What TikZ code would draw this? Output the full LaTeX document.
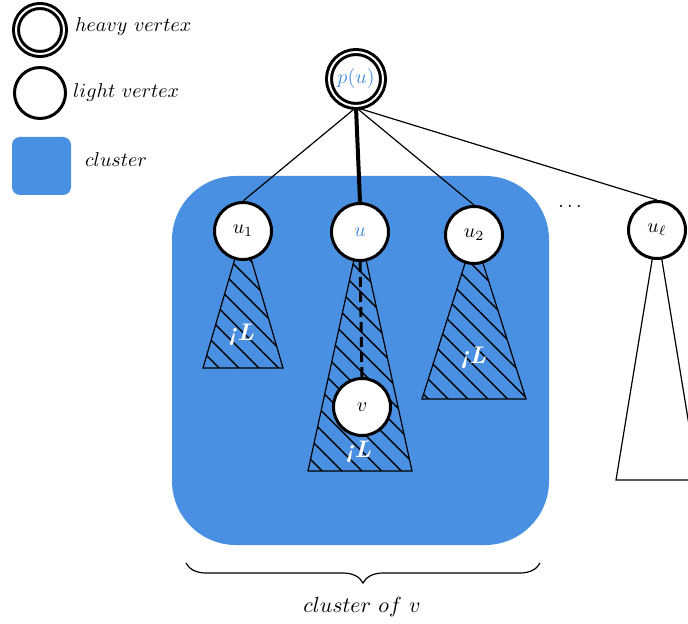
\documentclass[tikz,border=0pt]{standalone}
\usetikzlibrary{patterns.meta,decorations.pathreplacing,backgrounds}
\definecolor{clusterblue}{RGB}{74,144,226}

\begin{document}
\begin{tikzpicture}[x=0.5pt,y=-0.5pt]
\tikzstyle{light}=[circle, draw, fill=white, line width=1.5pt, inner sep=0pt, minimum size=28.5pt]
\tikzstyle{heavy}=[circle, draw, double, fill=white, line width=1.5pt, double distance=1pt, inner sep=0pt, minimum size=27pt]
\tikzstyle{subtree}=[draw, semithick, pattern={Lines[angle=-45,distance=7pt,line width=0.7pt]}]
\tikzstyle{size}=[text=white, font=\large\bfseries\itshape]

\useasboundingbox (0,0) rectangle (688,624);

% legend
\node[heavy, minimum size=24pt] (lheavy) at (40,30) {};
\node[anchor=base west] (theavy) at (68,32) {$heavy\ vertex$};
\node[light, minimum size=25.5pt] (llight) at (40,93) {};
\node[anchor=base west] (tlight) at (66,98) {$light\ vertex$};
\fill[clusterblue, rounded corners=4pt] (12,137) rectangle (71,195);
\node[anchor=base west] (tcluster) at (78,167) {$cluster$};

% tree
\node[heavy] (pu) at (356,79) {\textcolor{clusterblue}{$p(u)$}};
\node[light] (u1) at (243,231) {$u_1$};
\node[light] (u) at (360,232) {\textcolor{clusterblue}{$u$}};
\node[light] (u2) at (474,235) {$u_2$};
\node[light] (ul) at (657,230) {$u_\ell$};
\node[light] (v) at (362,407) {$v$};
\node[anchor=base] (dots) at (570,208) {$\dots$};

\begin{scope}[on background layer]
\fill[clusterblue, rounded corners=32pt] (172,176) rectangle (549,545);
\draw[subtree] (u1.center) -- ++(-40,137) -- ++(80,0) -- cycle;
\draw[subtree] (u.center) -- ++(-52,239) -- ++(104,0) -- cycle;
\draw[subtree] (u2.center) -- ++(-52,164) -- ++(104,0) -- cycle;
\draw[semithick] (ul.center) -- ++(-41,250) -- ++(82,0) -- cycle;
\end{scope}

\node[size] (s1) at (241,335) {¡L};
\node[size] (s) at (358,452) {¡L};
\node[size] (s2) at (473,358) {¡L};

\draw[semithick] (pu.south) -- (u1.north);
\draw[line width=2pt] (pu.south) -- (u.north);
\draw[semithick] (pu.south) -- (u2.north);
\draw[semithick] (pu.south) -- (ul.north);
\draw[line width=1.5pt, dash pattern=on 5pt off 2.5pt] (u.south) -- (v.north);

% brace
\coordinate (bl) at (186,563);
\coordinate (br) at (540,563);
\draw[semithick, decorate, decoration={brace, mirror, amplitude=10pt}] (bl) -- (br);
\node[anchor=base, font=\fontsize{10.8pt}{13pt}\selectfont] (tbrace) at (362,612) {$cluster\ of\ v$};

\end{tikzpicture}
\end{document}
